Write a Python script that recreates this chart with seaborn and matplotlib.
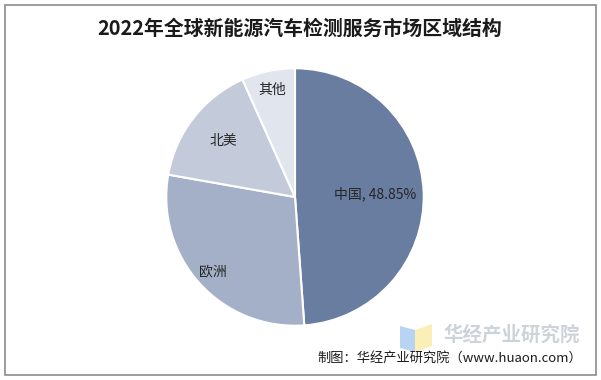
import matplotlib
matplotlib.use("Agg")
import matplotlib.pyplot as plt
import seaborn as sns
import numpy as np
from matplotlib.patches import Rectangle, Polygon

regions = ["中国", "欧洲", "北美", "其他"]
shares = [48.85, 28.93, 15.53, 6.69]
colors = ["#687D9F", "#A4B0C8", "#C3CADA", "#E0E5EE"]
label_dist = [0.62, 0.86, 0.71, 0.85]

sns.set_theme(style="white")
plt.rcParams['font.family'] = ['Noto Sans CJK SC', 'DejaVu Sans']

W, H = 601, 380
fig = plt.figure(figsize=(W / 100, H / 100), dpi=100)
fig.patch.set_facecolor("white")

# border
fig.add_artist(Rectangle((5 / W, 5 / H), (W - 10) / W, (H - 10) / H, transform=fig.transFigure,
                         fill=False, edgecolor="#8C8C8C", linewidth=1.2))

cx, cy, r = 295, 197, 130
ax = fig.add_axes([(cx - r) / W, (H - cy - r) / H, 2 * r / W, 2 * r / H])
wedges, _ = ax.pie(shares, colors=colors, startangle=90, counterclock=False,
                   wedgeprops=dict(edgecolor="white", linewidth=1.5), radius=1)
ax.set_xlim(-1.01, 1.01)
ax.set_ylim(-1.01, 1.01)
ax.set_aspect("equal")
ax.axis("off")

for w, name, val, d in zip(wedges, regions, shares, label_dist):
    ang = np.deg2rad((w.theta1 + w.theta2) / 2)
    txt = f"{name}, {val:.2f}%" if name == "中国" else name
    ax.text(d * np.cos(ang), d * np.sin(ang), txt, ha="center", va="center",
            fontsize=10, color="#262626")

fig.text(300 / W, 1 - 28 / H, "2022年全球新能源汽车检测服务市场区域结构", ha="center", va="center",
         fontsize=14.3, fontweight="bold", color="#1a1a1a")

# watermark logo
fig.add_artist(Polygon([[400 / W, 1 - 326 / H], [415 / W, 1 - 330 / H], [415 / W, 1 - 352 / H], [400 / W, 1 - 348 / H]],
                       closed=True, transform=fig.transFigure, facecolor="#B9D3F2", edgecolor="none"))
fig.add_artist(Polygon([[415 / W, 1 - 330 / H], [432 / W, 1 - 324 / H], [432 / W, 1 - 346 / H], [415 / W, 1 - 352 / H]],
                       closed=True, transform=fig.transFigure, facecolor="#FBEFB8", edgecolor="none"))
fig.text(512 / W, 1 - 335 / H, "华经产业研究院", ha="center", va="center",
         fontsize=14, fontweight="bold", color="#CDD3DA")

fig.text(582 / W, 1 - 358 / H, "制图：华经产业研究院（www.huaon.com）", ha="right", va="center",
         fontsize=9.5, color="#1a1a1a")

fig.savefig("out.png", dpi=100)
